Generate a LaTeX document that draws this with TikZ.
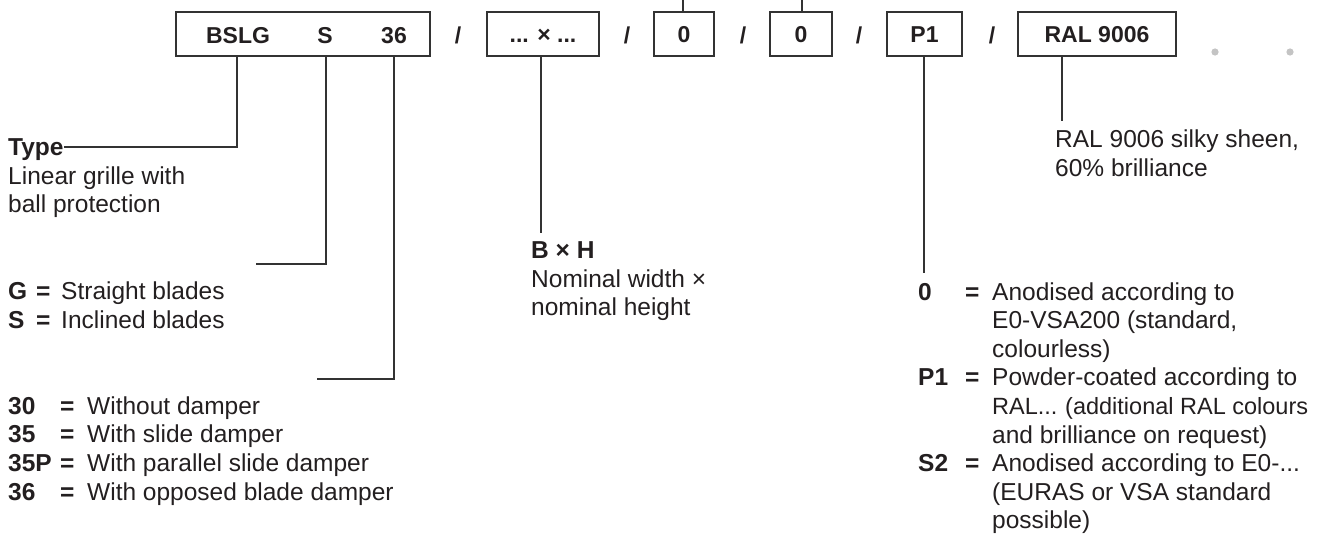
\documentclass[tikz,border=0pt]{standalone}
\usepackage{fontspec}
\setmainfont{Liberation Sans}
\definecolor{ink}{HTML}{231F20}
\definecolor{rule}{HTML}{333333}
\definecolor{dotgrey}{HTML}{C4C4C4}
\begin{document}
\begin{tikzpicture}[x=1pt,y=-1pt,
  txt/.style={inner sep=0pt,anchor=base west,text=ink,font=\fontsize{24.5}{28.6}\selectfont},
  key/.style={txt,font=\fontsize{24.5}{28.6}\selectfont\bfseries},
  codebox/.style={draw=rule,line width=1.1pt,minimum height=44pt,inner sep=0pt,text height=16.5pt,text depth=0pt,text=ink,font=\fontsize{23}{28}\selectfont\bfseries},
  sep/.style={inner sep=0pt,anchor=base,text=ink,font=\fontsize{23}{28}\selectfont\bfseries},
  lead/.style={draw=rule,line width=1.1pt}]
\useasboundingbox (0,0) rectangle (1317,533);
% code boxes
\node[codebox,minimum width=254pt] (box1) at (303,34) {};
\node[sep] (bslg) at (238,43) {BSLG};
\node[sep] (bs) at (325,43) {S};
\node[sep] (b36) at (394,43) {36};
\node[sep] (s1) at (458,43) {/};
\node[codebox,minimum width=112pt] (box2) at (543,34) {... × ...};
\node[sep] (s2) at (627,43) {/};
\node[codebox,minimum width=60pt] (box3) at (684,34) {0};
\node[sep] (s3) at (743,43) {/};
\node[codebox,minimum width=62pt] (box4) at (801,34) {0};
\node[sep] (s4) at (859,43) {/};
\node[codebox,minimum width=75pt] (box5) at (924.5,34) {P1};
\node[sep] (s5) at (992,43) {/};
\node[codebox,minimum width=158pt] (box6) at (1097,34) {RAL 9006};
\fill[dotgrey] (1215,52) circle (3.6pt);
\fill[dotgrey] (1290,52) circle (3.6pt);
% type
\node[key] (type) at (8,155) {Type};
\node[txt] (type1) at (8,184) {Linear grille with};
\node[txt] (type2) at (8,212.5) {ball protection};
% blades
\node[key] (kG) at (8,299) {G};
\node[key] (eG) at (36,299) {=};
\node[txt] (tG) at (61,299) {Straight blades};
\node[key] (kS) at (8,328) {S};
\node[key] (eS) at (36,328) {=};
\node[txt] (tS) at (61,328) {Inclined blades};
% dampers
\node[key] (k30) at (8,414) {30};
\node[key] (e30) at (60,414) {=};
\node[txt] (t30) at (87,414) {Without damper};
\node[key] (k35) at (8,442.5) {35};
\node[key] (e35) at (60,442.5) {=};
\node[txt] (t35) at (87,442.5) {With slide damper};
\node[key] (k35P) at (8,471) {35P};
\node[key] (e35P) at (60,471) {=};
\node[txt] (t35P) at (87,471) {With parallel slide damper};
\node[key] (k36) at (8,500) {36};
\node[key] (e36) at (60,500) {=};
\node[txt] (t36) at (87,500) {With opposed blade damper};
% size
\node[key] (bh) at (531,258) {B × H};
\node[txt] (bh1) at (531,287) {Nominal width ×};
\node[txt] (bh2) at (531,315.5) {nominal height};
% surface
\node[key] (k0) at (918,300) {0};
\node[key] (e0) at (965,300) {=};
\node[txt] (t0a) at (992,300) {Anodised according to};
\node[txt] (t0b) at (992,328.6) {E0-VSA200 (standard,};
\node[txt] (t0c) at (992,357.2) {colourless)};
\node[key] (kP1) at (918,385.8) {P1};
\node[key] (eP1) at (965,385.8) {=};
\node[txt] (tP1a) at (992,385.8) {Powder-coated according to};
\node[txt,font=\fontsize{23.5}{28.6}\selectfont] (tP1b) at (992,414.4) {RAL...\kern-1pt{} (additional RAL colours};
\node[txt] (tP1c) at (992,443) {and brilliance on request)};
\node[key] (kS2) at (918,471.6) {S2};
\node[key] (eS2) at (965,471.6) {=};
\node[txt] (tS2a) at (992,471.6) {Anodised according to E0-...};
\node[txt] (tS2b) at (992,500.2) {(EURAS or VSA standard};
\node[txt] (tS2c) at (992,528.8) {possible)};
% colour
\node[txt] (ral1) at (1055,147) {RAL 9006 silky sheen,};
\node[txt] (ral2) at (1055,176) {60\% brilliance};
% leader lines
\coordinate (cType) at (237,147);
\coordinate (cS) at (326,264);
\coordinate (cSend) at (256,264);
\coordinate (c36) at (394,379);
\coordinate (c36end) at (317,379);
\coordinate (cBH) at (541,233);
\coordinate (top3) at (683,0);
\coordinate (top4) at (802,0);
\coordinate (cP1) at (924,273);
\coordinate (cRAL) at (1062,121);
\draw[lead] (box1.south -| cType) -- (cType) -- (type.east |- cType);
\draw[lead] (box1.south -| cS) -- (cS) -- (cSend);
\draw[lead] (box1.south -| c36) -- (c36) -- (c36end);
\draw[lead] (box2.south -| cBH) -- (cBH);
\draw[lead] (box3.north -| top3) -- (top3);
\draw[lead] (box4.north -| top4) -- (top4);
\draw[lead] (box5.south -| cP1) -- (cP1);
\draw[lead] (box6.south -| cRAL) -- (cRAL);
\end{tikzpicture}
\end{document}
